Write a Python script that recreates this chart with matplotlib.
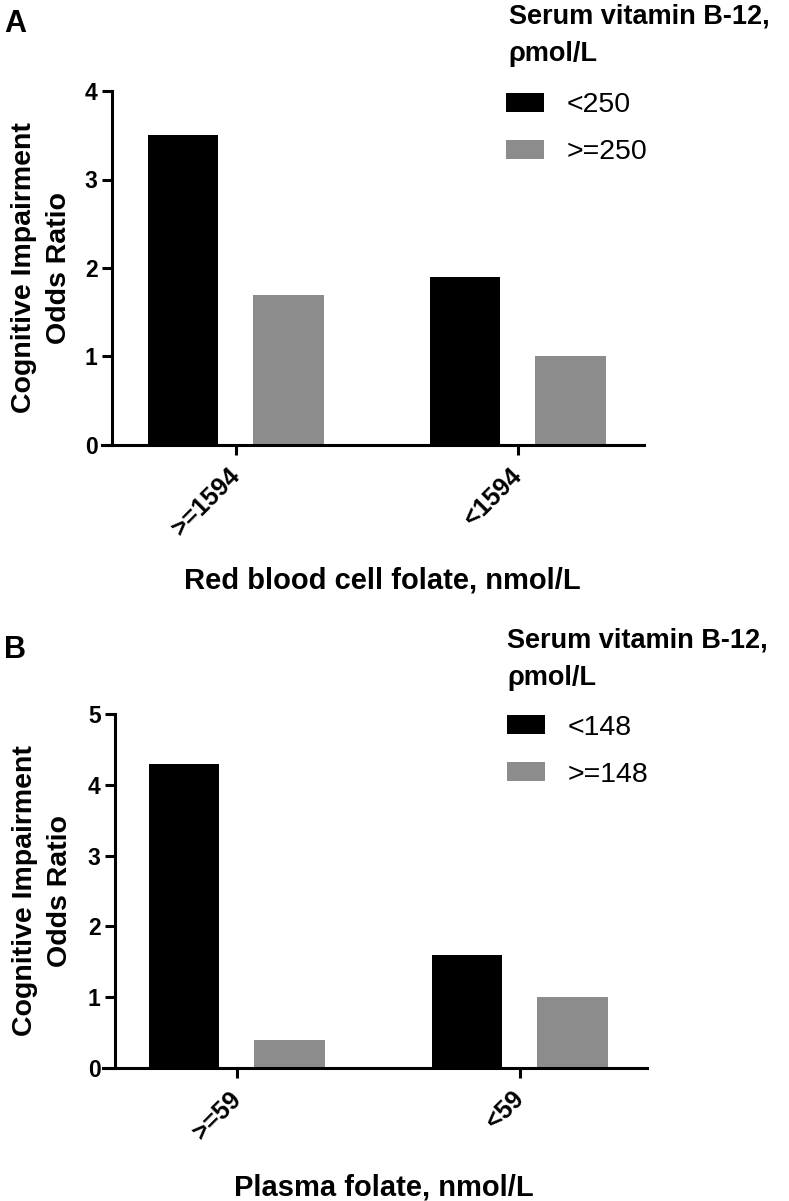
import matplotlib
matplotlib.use("Agg")
import matplotlib.pyplot as plt
import numpy as np

plt.rcParams['font.family'] = ['Liberation Sans', 'DejaVu Sans']

# ---- data ----
groups_A = [">=1594", "<1594"]
b12_labels_A = ["<250", ">=250"]
or_A_low_b12 = [3.5, 1.9]
or_A_high_b12 = [1.7, 1.0]
yticks_A = [0, 1, 2, 3, 4]

groups_B = [">=59", "<59"]
b12_labels_B = ["<148", ">=148"]
or_B_low_b12 = [4.3, 1.6]
or_B_high_b12 = [0.4, 1.0]
yticks_B = [0, 1, 2, 3, 4, 5]

xlabel_A = "Red blood cell folate, nmol/L"
xlabel_B = "Plasma folate, nmol/L"
ylabel = "Cognitive Impairment\nOdds Ratio"
legend_title_1 = "Serum vitamin B-12,"
legend_title_2 = "ρmol/L"

W, H = 789, 1201
fig = plt.figure(figsize=(W / 100, H / 100), dpi=100)

BLACK = "#000000"
GRAY = "#8c8c8c"
LW = 2.2


def px_x(x):
    return x / W


def px_y(y):
    return 1 - y / H


def make_panel(rect, groups, low, high, labels, yticks, xlabel, yspine,
               xlim, xlab_y, leg_left, leg_top, title_x, title_base1,
               title_base2, letter, letter_base):
    ax = fig.add_axes(rect)
    ax.spines['top'].set_visible(False)
    ax.spines['right'].set_visible(False)
    ax.spines['left'].set_position(('data', yspine))
    ax.spines['left'].set_linewidth(LW)
    ax.spines['bottom'].set_linewidth(LW)
    x = np.arange(len(groups))
    off = 0.187
    wbar = 0.25
    b1 = ax.bar(x - off, low, width=wbar, color=BLACK, linewidth=0,
                label=labels[0])
    b2 = ax.bar(x + off, high, width=wbar, color=GRAY, linewidth=0,
                label=labels[1])
    ax.set_xlim(*xlim)
    ax.set_ylim(yticks[0], yticks[-1])
    ax.tick_params(axis='both', width=LW, length=7.2, color='black')
    ax.tick_params(axis='x', pad=12.5)
    ax.tick_params(axis='y', pad=3)
    ax.set_yticks(yticks, labels=[str(v) for v in yticks], fontsize=16.5,
                  fontweight='bold')
    ax.set_xticks(x, labels=groups, rotation=45, ha='right', va='center',
                  rotation_mode='anchor', fontsize=18, fontweight='bold')
    ax.set_xlabel(xlabel, fontsize=21, fontweight='bold', va='baseline')
    ax.xaxis.set_label_coords(0.517, xlab_y)
    ax.set_ylabel(ylabel, fontsize=20.5, fontweight='bold', va='center',
                  linespacing=1.45)
    ax.yaxis.set_label_coords(-0.112, 0.5)

    ax.legend(handles=[b1, b2], labels=labels, loc='upper left',
              bbox_to_anchor=(px_x(leg_left), px_y(leg_top)),
              bbox_transform=fig.transFigure, frameon=False,
              fontsize=20.5, borderpad=0, borderaxespad=0,
              handlelength=1.32, handleheight=0.63,
              handletextpad=0.8, labelspacing=0.74)
    fig.text(px_x(title_x), px_y(title_base1), legend_title_1,
             fontsize=19.5, fontweight='bold', va='baseline', ha='left')
    fig.text(px_x(title_x), px_y(title_base2), legend_title_2,
             fontsize=19.5, fontweight='bold', va='baseline', ha='left')
    fig.text(px_x(4), px_y(letter_base), letter, fontsize=22,
             fontweight='bold', va='baseline', ha='left')
    return ax


# Panel A: axes pixel box x 102..644, y 91..445
make_panel([px_x(102), px_y(445), 542 / W, 354 / H], groups_A,
           or_A_low_b12, or_A_high_b12, b12_labels_A, yticks_A, xlabel_A,
           yspine=-0.44, xlim=(-0.475, 1.447), xlab_y=-(589 - 445) / 354,
           leg_left=506, leg_top=92.2, title_x=508.7, title_base1=23,
           title_base2=61, letter="A", letter_base=32)

# Panel B: axes pixel box x 103..647, y 714..1068
make_panel([px_x(103), px_y(1068), 544 / W, 354 / H], groups_B,
           or_B_low_b12, or_B_high_b12, b12_labels_B, yticks_B, xlabel_B,
           yspine=-0.431, xlim=(-0.473, 1.449), xlab_y=-(1195 - 1068) / 354,
           leg_left=507, leg_top=714.7, title_x=507, title_base1=647,
           title_base2=685, letter="B", letter_base=658)

fig.savefig("out.png", dpi=100)
